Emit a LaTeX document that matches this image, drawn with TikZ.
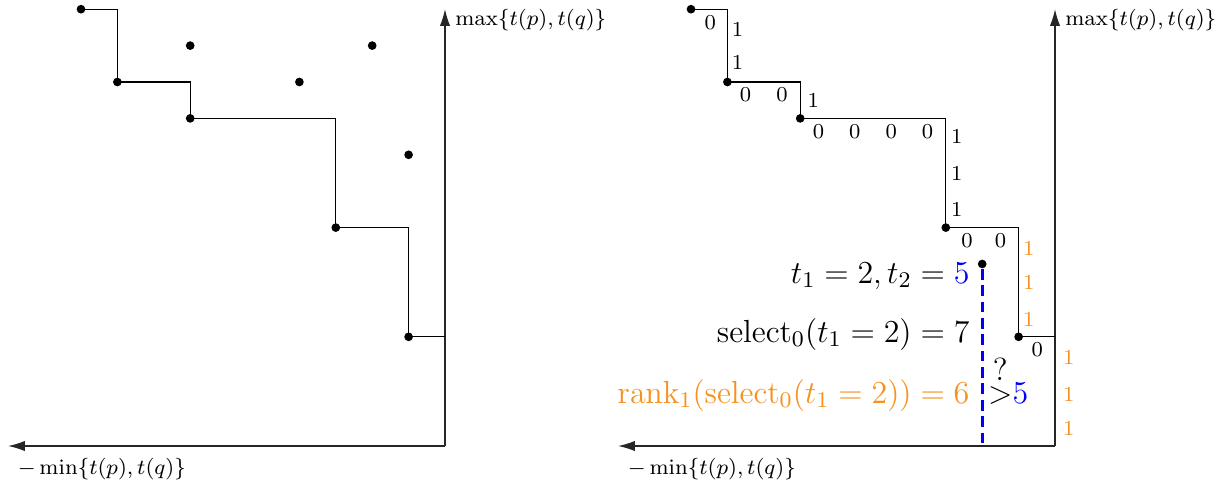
\RequirePackage{fix-cm}
\documentclass[tikz,border=0pt]{standalone}
\usepackage{amsmath}
\usetikzlibrary{arrows.meta}
\definecolor{myorange}{RGB}{247,145,30}
\begin{document}
\begin{tikzpicture}[x=0.5cm,y=0.5cm,
  dot/.style={circle,fill=black,inner sep=0pt,minimum size=3.4pt},
  stair/.style={line width=0.4pt},
  axis/.style={line width=0.45pt,black!85,-{Latex[length=6.5pt,width=4pt]}},
  bit/.style={font=\fontsize{8.3}{9}\selectfont,inner sep=0pt},
  obit/.style={bit,text=myorange},
  axlabel/.style={font=\fontsize{8.45}{10}\selectfont,inner sep=0pt,anchor=north west},
  big/.style={font=\fontsize{12.5}{15}\selectfont,inner sep=0pt},
  query/.style={blue,line width=1.1pt,dash pattern=on 4.2pt off 2.2pt}]
\useasboundingbox (-12.225,-1.126) rectangle (21.373,12.253);

% ---------------- left panel ----------------
\coordinate (O) at (0,0);
\coordinate (Ytip) at (0,12);
\coordinate (Xtip) at (-12,0);
\draw[axis] (O) -- (Ytip);
\draw[axis] (O) -- (Xtip);
\node[axlabel] (ymax) at (0.27,12.0) {$\max\{t(p),t(q)\}$};
\node[axlabel] (xmin) at (-11.75,-0.32) {$-\min\{t(p),t(q)\}$};

\node[dot] (a1) at (-10,12) {};
\node[dot] (a2) at (-9,10) {};
\node[dot] (a3) at (-7,9) {};
\node[dot] (a4) at (-3,6) {};
\node[dot] (a5) at (-1,3) {};
\node[dot] (e1) at (-7,11) {};
\node[dot] (e2) at (-2,11) {};
\node[dot] (e3) at (-4,10) {};
\node[dot] (e4) at (-1,8) {};
\draw[stair] (a1.center) -| (a2.center) -| (a3.center) -| (a4.center) -| (a5.center) -- (a5 -| O);

% ---------------- right panel ----------------
\begin{scope}[shift={(16.758,0)}]
\coordinate (O2) at (0,0);
\coordinate (Ytip2) at (0,12);
\coordinate (Xtip2) at (-12,0);
\draw[axis] (O2) -- (Ytip2);
\draw[axis] (O2) -- (Xtip2);
\node[axlabel] (ymax2) at (0.27,12.0) {$\max\{t(p),t(q)\}$};
\node[axlabel] (xmin2) at (-11.75,-0.32) {$-\min\{t(p),t(q)\}$};

\node[dot] (b1) at (-10,12) {};
\node[dot] (b2) at (-9,10) {};
\node[dot] (b3) at (-7,9) {};
\node[dot] (b4) at (-3,6) {};
\node[dot] (b5) at (-1,3) {};
\draw[stair] (b1.center) -| (b2.center) -| (b3.center) -| (b4.center) -| (b5.center) -- (b5 -| O2);

% query point and dashed line
\node[dot] (q) at (-2,5) {};
\draw[query] (q.south) -- (q |- O2);

% bit labels
\node[bit] (z1) at (-9.47,11.64) {0};
\node[bit] (o1) at (-8.72,11.45) {1};
\node[bit] (o2) at (-8.72,10.55) {1};
\node[bit] (z2) at (-8.5,9.64) {0};
\node[bit] (z3) at (-7.5,9.64) {0};
\node[bit] (o3) at (-6.64,9.48) {1};
\node[bit] (z4) at (-6.5,8.64) {0};
\node[bit] (z5) at (-5.5,8.64) {0};
\node[bit] (z6) at (-4.5,8.64) {0};
\node[bit] (z7) at (-3.5,8.64) {0};
\node[bit] (o4) at (-2.7,8.5) {1};
\node[bit] (o5) at (-2.7,7.5) {1};
\node[bit] (o6) at (-2.7,6.5) {1};
\node[bit] (z8) at (-2.42,5.65) {0};
\node[bit] (z9) at (-1.5,5.65) {0};
\node[obit] (r1) at (-0.72,5.44) {1};
\node[obit] (r2) at (-0.72,4.48) {1};
\node[obit] (r3) at (-0.72,3.48) {1};
\node[bit] (z10) at (-0.49,2.64) {0};
\node[obit] (r4) at (0.38,2.42) {1};
\node[obit] (r5) at (0.38,1.43) {1};
\node[obit] (r6) at (0.38,0.47) {1};

% query texts
\node[big,anchor=base east] (tt) at (-2.335,4.478) {$t_1=2,t_2=\textcolor{blue}{5}$};
\node[big,anchor=base east] (sel) at (-2.335,2.857) {$\mathrm{select}_0(t_1=2)=7$};
\node[big,anchor=base east,text=myorange] (rk) at (-2.335,1.18) {$\mathrm{rank}_1(\mathrm{select}_0(t_1=2))=6$};
\node[big,anchor=base west] (cmp) at (-1.85,1.18) {${\overset{\textstyle ?}{>}}\textcolor{blue}{5}$};
\end{scope}
\end{tikzpicture}
\end{document}
